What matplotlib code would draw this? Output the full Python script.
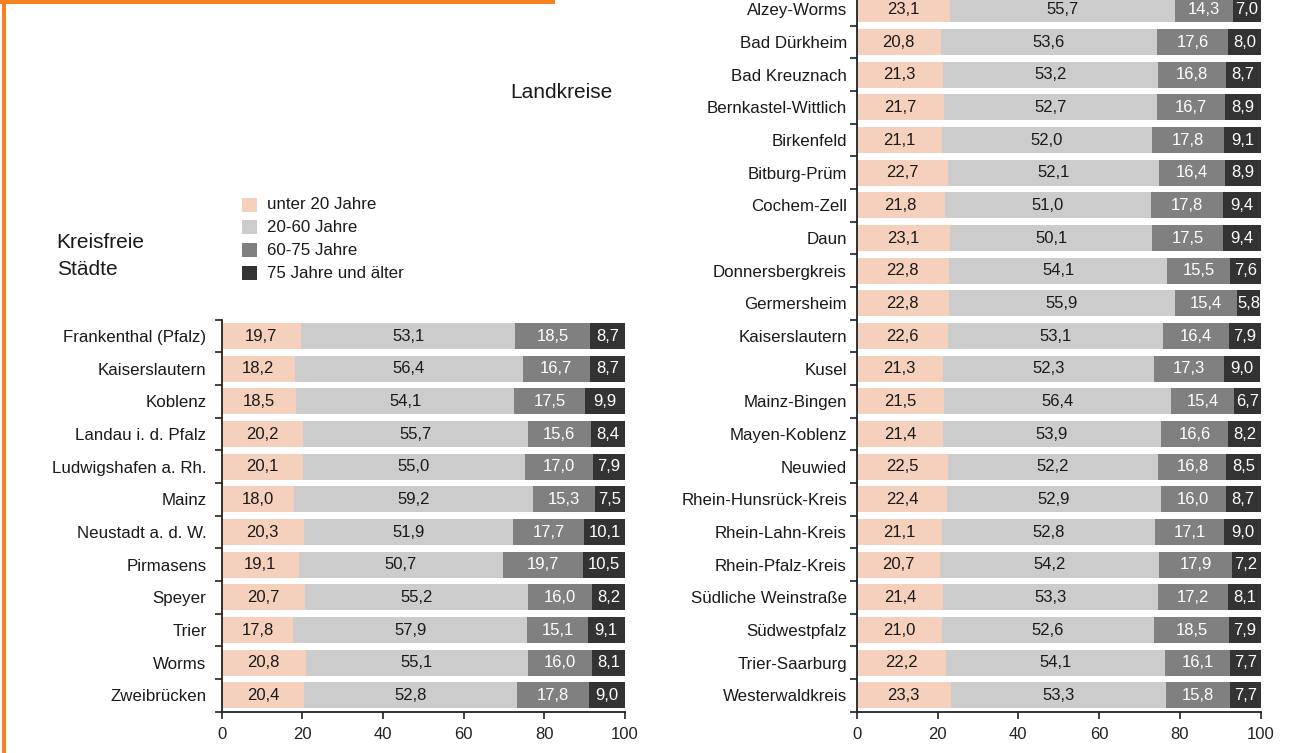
import matplotlib
matplotlib.use("Agg")
import matplotlib.pyplot as plt
from matplotlib.patches import Rectangle

plt.rcParams['font.family'] = ['Liberation Sans', 'DejaVu Sans']

# Altersgruppen
groups = ["unter 20 Jahre", "20-60 Jahre", "60-75 Jahre", "75 Jahre und älter"]
colors = ["#F5D0BC", "#CCCCCC", "#808080", "#333333"]
text_colors = ["#1a1a1a", "#1a1a1a", "white", "white"]

# Kreisfreie Städte
cities = ["Frankenthal (Pfalz)", "Kaiserslautern", "Koblenz", "Landau i. d. Pfalz",
          "Ludwigshafen a. Rh.", "Mainz", "Neustadt a. d. W.", "Pirmasens",
          "Speyer", "Trier", "Worms", "Zweibrücken"]
city_u20 = [19.7, 18.2, 18.5, 20.2, 20.1, 18.0, 20.3, 19.1, 20.7, 17.8, 20.8, 20.4]
city_20_60 = [53.1, 56.4, 54.1, 55.7, 55.0, 59.2, 51.9, 50.7, 55.2, 57.9, 55.1, 52.8]
city_60_75 = [18.5, 16.7, 17.5, 15.6, 17.0, 15.3, 17.7, 19.7, 16.0, 15.1, 16.0, 17.8]
city_75 = [8.7, 8.7, 9.9, 8.4, 7.9, 7.5, 10.1, 10.5, 8.2, 9.1, 8.1, 9.0]

# Landkreise
districts = ["Alzey-Worms", "Bad Dürkheim", "Bad Kreuznach", "Bernkastel-Wittlich",
             "Birkenfeld", "Bitburg-Prüm", "Cochem-Zell", "Daun", "Donnersbergkreis",
             "Germersheim", "Kaiserslautern", "Kusel", "Mainz-Bingen", "Mayen-Koblenz",
             "Neuwied", "Rhein-Hunsrück-Kreis", "Rhein-Lahn-Kreis", "Rhein-Pfalz-Kreis",
             "Südliche Weinstraße", "Südwestpfalz", "Trier-Saarburg", "Westerwaldkreis"]
dist_u20 = [23.1, 20.8, 21.3, 21.7, 21.1, 22.7, 21.8, 23.1, 22.8, 22.8, 22.6,
            21.3, 21.5, 21.4, 22.5, 22.4, 21.1, 20.7, 21.4, 21.0, 22.2, 23.3]
dist_20_60 = [55.7, 53.6, 53.2, 52.7, 52.0, 52.1, 51.0, 50.1, 54.1, 55.9, 53.1,
              52.3, 56.4, 53.9, 52.2, 52.9, 52.8, 54.2, 53.3, 52.6, 54.1, 53.3]
dist_60_75 = [14.3, 17.6, 16.8, 16.7, 17.8, 16.4, 17.8, 17.5, 15.5, 15.4, 16.4,
              17.3, 15.4, 16.6, 16.8, 16.0, 17.1, 17.9, 17.2, 18.5, 16.1, 15.8]
dist_75 = [7.0, 8.0, 8.7, 8.9, 9.1, 8.9, 9.4, 9.4, 7.6, 5.8, 7.9,
           9.0, 6.7, 8.2, 8.5, 8.7, 9.0, 7.2, 8.1, 7.9, 7.7, 7.7]

xticks = [0, 20, 40, 60, 80, 100]

W, H = 1310, 753
fig = plt.figure(figsize=(W / 100, H / 100), dpi=100)


def stacked(ax, names, series, label_pad):
    n = len(names)
    ys = list(range(n))
    left = [0.0] * n
    for vals, c, tc in zip(series, colors, text_colors):
        ax.barh(ys, vals, left=left, height=0.8, color=c, edgecolor='none')
        for y, l, v in zip(ys, left, vals):
            ax.text(l + v / 2, y, f"{v:.1f}".replace(".", ","), ha='center', va='center',
                    fontsize=12, color=tc)
        left = [a + b for a, b in zip(left, vals)]
    ax.set_xlim(0, 100)
    ax.set_ylim(n - 0.5, -0.5)
    ax.set_yticks(ys)
    ax.set_yticklabels(names, fontsize=12.2, color='#1a1a1a')
    ax.set_yticks([k - 0.5 for k in range(n + 1)], minor=True)
    ax.tick_params(axis='y', which='major', length=0, pad=label_pad)
    ax.tick_params(axis='y', which='minor', length=5, width=1.2, color='#222222')
    ax.set_xticks(xticks)
    ax.set_xticklabels([str(t) for t in xticks], fontsize=12, color='#222222')
    ax.tick_params(axis='x', length=5, width=1.2, color='#222222', pad=6)
    for s in ['top', 'right']:
        ax.spines[s].set_visible(False)
    for s in ['left', 'bottom']:
        ax.spines[s].set_linewidth(1.3)
        ax.spines[s].set_color('#222222')


ax1 = fig.add_axes([221.7 / W, 41.3 / H, 403.3 / W, 392.0 / H])
stacked(ax1, cities, [city_u20, city_20_60, city_60_75, city_75], 11)

ax2 = fig.add_axes([856.7 / W, 41.3 / H, 404.0 / W, 718.7 / H])
stacked(ax2, districts, [dist_u20, dist_20_60, dist_60_75, dist_75], 7)

# Überschriften
fig.text(56.7 / W, 1 - 248.3 / H, "Kreisfreie", fontsize=15, va='baseline', color='#1a1a1a')
fig.text(56.7 / W, 1 - 275 / H, "Städte", fontsize=15, va='baseline', color='#1a1a1a')
fig.text(510 / W, 1 - 98.3 / H, "Landkreise", fontsize=15, va='baseline', color='#1a1a1a')

# Legende
for i, (g, c) in enumerate(zip(groups, colors)):
    yc = 204.5 + i * 22.9
    fig.add_artist(Rectangle((241.7 / W, 1 - (yc + 7) / H), 15 / W, 14 / H,
                             transform=fig.transFigure, color=c, lw=0))
    fig.text(266.7 / W, 1 - yc / H, g, fontsize=12.2, va='center', color='#1a1a1a')

# orangefarbener Rahmen
orange = "#F58220"
fig.add_artist(Rectangle((2 / W, 0), 4 / W, 1, transform=fig.transFigure, color=orange, lw=0))
fig.add_artist(Rectangle((0, 1 - 4 / H), 555 / W, 4 / H, transform=fig.transFigure, color=orange, lw=0))

fig.savefig("out.png", dpi=100)
